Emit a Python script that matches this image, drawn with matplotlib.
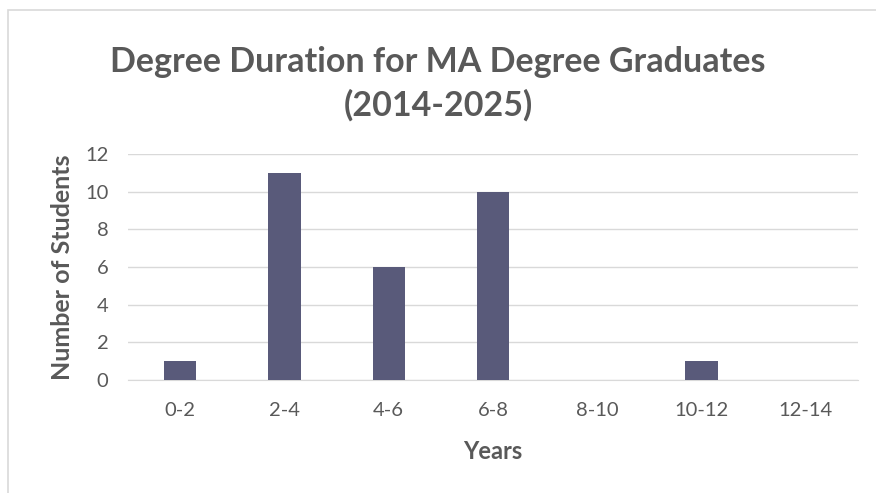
import matplotlib
matplotlib.use("Agg")
import matplotlib.pyplot as plt
from matplotlib.patches import Rectangle

categories = ["0-2", "2-4", "4-6", "6-8", "8-10", "10-12", "12-14"]
counts = [1, 11, 6, 10, 0, 1, 0]
yticks = [0, 2, 4, 6, 8, 10, 12]

plt.rcParams['font.family'] = ['Lato', 'DejaVu Sans']
W, H = 876, 493
fig = plt.figure(figsize=(W/100, H/100), dpi=100)
fig.patch.set_facecolor("white")

# chart border (only top/left visible in reference)
fig.add_artist(Rectangle((8/W, -0.1), 1.2, (H-10)/H + 0.1, transform=fig.transFigure,
                         fill=False, edgecolor="#d9d9d9", linewidth=1.2))

ax = fig.add_axes([128/W, 1-380/H, (858-128)/W, (380-154)/H])
x = list(range(len(categories)))
ax.bar(x, counts, width=0.31, color="#595a7a", zorder=3)
ax.set_xlim(-0.5, len(categories)-0.5)
ax.set_ylim(0, 12)
ax.set_yticks(yticks)
ax.set_xticks(x)
ax.set_xticklabels(categories)
ax.grid(axis="y", color="#d9d9d9", linewidth=1, zorder=0)
for s in ["top", "right", "left"]:
    ax.spines[s].set_visible(False)
ax.spines["bottom"].set_color("#d9d9d9")
ax.tick_params(axis="both", length=0, labelsize=14.5, colors="#595959")
ax.tick_params(axis="x", pad=16)
ax.tick_params(axis="y", pad=14)
ax.set_xlabel("Years", fontsize=17, fontweight="bold", color="#595959", labelpad=15)
ax.set_ylabel("Number of Students", fontsize=18, fontweight="bold", color="#595959", labelpad=8)

fig.text(0.5, 1-84/H, "Degree Duration for MA Degree Graduates\n(2014-2025)",
         ha="center", va="center", fontsize=24.5, fontweight="bold", color="#595959",
         linespacing=1.4)

fig.savefig("out.png", dpi=100, facecolor="white")
